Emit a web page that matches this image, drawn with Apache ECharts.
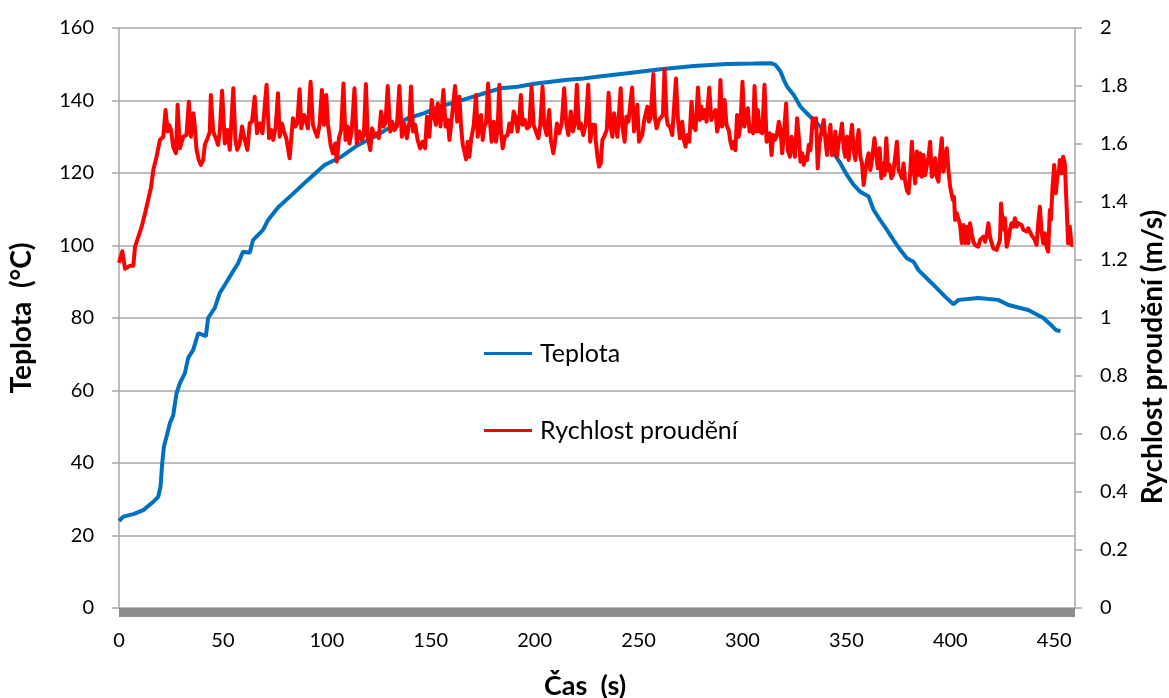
<!DOCTYPE html>
<html>
<head>
<meta charset="utf-8">
<script src="https://cdn.jsdelivr.net/npm/echarts@6/dist/echarts.min.js"></script>
<style>
  html, body { margin: 0; padding: 0; background: #fff; }
  #chart { width: 1169px; height: 698px; }
</style>
</head>
<body>
<div id="chart"></div>
<script>
// Teplota (°C) – time stamps [s] and values
const tempTime = [0, 2.1, 6.9, 11.7, 16.5, 18.9, 20.0, 20.8, 21.6, 22.9, 24.5, 26.1, 27.7, 29.3, 31.7, 33.3, 35.7, 38.1, 41.8, 42.9, 46.1, 48.5, 50.9, 53.3, 57.3, 59.7, 62.9, 64.5, 69.3, 71.7, 76.5, 83, 90.9, 98.9, 107, 114.9, 123, 131, 139, 147, 154.2, 159.8, 167.8, 175.8, 183.8, 191.8, 199.8, 207.8, 215.8, 223.8, 231, 244.6, 260.6, 276.6, 292.6, 305.5, 313.5, 315.9, 318.3, 319.9, 321.5, 324.7, 327.9, 331.1, 334.3, 337.5, 340.7, 343.9, 347.1, 350.3, 353.5, 356.7, 360.7, 363.1, 366.3, 369.5, 372.7, 375.9, 379.1, 382.3, 384.7, 391.1, 397.5, 401.5, 404, 413.5, 423, 428, 437.5, 444.8, 448.6, 451, 453];
const tempValues = [24, 25.2, 25.9, 27.0, 29.3, 30.7, 33.5, 40, 44.5, 47.3, 51, 53.2, 59.3, 62, 64.8, 69, 71.2, 75.8, 75, 80, 82.8, 86.9, 89.1, 91.4, 95.1, 98.3, 98, 101.5, 104.3, 107, 110.5, 113.9, 118.1, 122.2, 124.5, 127.7, 130, 132.8, 135.1, 136.5, 138.3, 139.2, 140.6, 142, 143.4, 143.8, 144.6, 145.2, 145.7, 146.1, 146.6, 147.5, 148.6, 149.5, 150.1, 150.2, 150.3, 149.8, 148, 145.7, 143.8, 141.5, 138.3, 136.4, 134.6, 132.8, 130, 125.4, 122.7, 119.4, 116.7, 114.8, 113.5, 109.8, 107, 104.3, 101.5, 98.8, 96.5, 95.5, 93.2, 89.6, 85.9, 83.8, 85, 85.5, 85, 83.6, 82.2, 80, 78, 76.6, 76.4];

// Rychlost proudění (m/s) – time stamps [s] and values
const speedTime = [
  0, 1.6, 2.9, 5.3, 6.9, 7.7, 9.3, 10.9, 12.5, 14.1, 15.4, 16.5, 18.1, 19.7, 21.3, 22.4, 23.4, 24.2, 25.0, 26.1, 27.4, 28.2, 29.3, 30.9, 32.5, 33.6, 34.6, 35.8, 36.5, 37.3, 38.4, 39.4, 40.5, 41.3, 42.6, 43.7, 44.2, 45.3, 46.9, 47.7, 48.5, 49.6, 50.9, 52.2, 53.3, 55.0, 56.0, 56.9, 58.1, 59.2, 60.5, 61.8, 62.9, 64.0, 65.3, 66.4, 67.7, 69.0, 71.0, 72.2, 73.3, 74.2, 75.4, 76.5,
  77.3, 78.4, 79.4, 80.5, 81.3, 82.1, 82.9, 83.7, 84.8, 85.8, 86.9, 87.7, 89.0, 90.1, 90.9, 92.2, 93.3, 94.4, 95.4, 96.5, 97.6, 98.6, 99.7, 100.5, 101.8, 102.9, 104.0, 104.8, 105.8, 106.9, 108.0, 109.0, 110.1, 110.9, 112.0, 113.3, 114.4, 115.7, 116.8, 117.8, 118.8, 119.7, 120.9, 121.8, 122.9, 124.1, 125.0, 126.1, 127.3, 128.2, 129.3, 130.5, 131.4, 132.5, 133.7, 134.9, 136.1, 137.3, 138.5, 139.7, 140.5, 141.5, 142.5, 143.7, 144.9, 146.1, 147.3, 148.2, 149.3, 150.5, 151.4, 152.5, 153.4,
  154.7, 155.3, 156.1, 157.1, 158.2, 159.0, 159.8, 160.6, 161.7, 162.7, 163.8, 164.6, 165.4, 166.2, 167.0, 167.8, 168.6, 169.4, 170.7, 171.8, 172.6, 173.4, 174.2, 175.0, 175.8, 176.6, 177.6, 178.5, 179.3, 180.3, 181.4, 182.2, 183.0, 183.8, 184.6, 185.7, 187.0, 187.8, 188.9, 189.9, 191.0, 191.8, 192.6, 193.4, 194.2, 195.3, 196.3, 197.4, 198.5, 199.5, 200.6, 201.8, 202.7, 203.8, 204.6, 205.8, 207.0, 207.8, 209.0, 209.8, 210.7, 211.8, 213.0, 214.2, 215.2, 216.2, 217.4, 218.4, 219.4, 220.3, 221.3, 222.2, 223.4, 224.6, 225.8, 226.7, 227.9, 229.0,
  229.4, 230.2, 231.0, 231.8, 232.6, 233.4, 234.7, 235.6, 236.6, 237.4, 238.2, 239.0, 239.8, 240.6, 241.4, 242.2, 243.3, 244.1, 245.1, 245.9, 246.9, 247.8, 248.6, 249.4, 250.2, 251.0, 251.8, 252.6, 253.4, 254.2, 255.0, 255.8, 257.1, 257.9, 258.7, 259.8, 260.6, 261.7, 262.5, 263.5, 264.1, 265.1, 266.2, 267.0, 268.0, 268.9, 269.9, 271.0, 271.8, 272.6, 273.4, 274.4, 275.5, 276.3, 277.4, 278.6, 279.4, 280.2, 281.0, 281.9, 282.7, 284.0, 285.0, 285.9, 287.0, 287.8, 288.6, 289.4, 290.2, 291.4, 292.3, 293.4, 294.2, 295.0, 295.8, 296.6, 297.4, 298.2, 299.0, 300.0, 300.9, 301.8, 302.6, 303.4, 304.2, 305.1, 305.8, 306.8,
  307.4, 308.4, 309.5, 310.6, 311.6, 312.2, 313.2, 314.0, 314.8, 315.6, 316.4, 317.5, 318.3, 319.1, 319.9, 321.0, 321.8, 322.8, 323.6, 324.4, 325.2, 326.3, 327.1, 327.9, 328.7, 329.5, 330.3, 331.1, 331.9, 332.7, 333.8, 334.6, 335.4, 336.2, 337.0, 338.0, 339.1, 339.9, 340.7, 341.5, 342.3, 343.1, 343.9, 344.7, 345.5, 346.3, 347.1, 347.9, 348.7, 349.5, 350.3, 351.1, 351.9, 352.7, 353.5, 354.3, 355.1, 355.9, 356.7, 357.5, 358.3, 359.1, 359.9, 360.7, 361.5, 362.3, 363.5, 364.3, 365.1, 366.0, 366.8, 367.6, 368.4, 369.2, 370.0, 370.8, 371.6, 372.4, 373.2, 374.3, 375.1, 375.9, 376.7, 377.5, 378.3, 379.1, 379.9, 380.7, 381.5, 382.3,
  383.1, 383.9, 384.7, 385.5, 386.3, 387.1, 387.9, 388.7, 389.5, 390.3, 391.1, 391.9, 392.7, 393.5, 394.3, 395.1, 395.9, 396.7, 397.5, 398.3, 399.1, 399.9, 400.7, 401.2, 401.8, 402.3, 403.1, 403.9, 404.7, 405.5, 406.3, 407.1, 407.9, 408.7, 409.5, 410.3, 411.1, 411.9, 412.7, 413.5, 414.3, 415.1, 415.9, 416.7, 417.5, 418.3, 419.1, 419.9, 420.7, 421.5, 422.3, 423.1, 423.9, 424.4, 425.2, 425.8, 426.3, 427.1, 427.9, 428.7, 429.5, 430.3, 431.1, 431.9, 432.7, 433.5, 434.3, 435.1, 435.9, 436.7, 437.5, 438.3, 439.1, 439.9, 440.7, 441.5, 442.3, 443.1, 443.9, 444.7, 445.5, 446.3, 447.1, 447.9, 448.4, 449.2, 450.0, 450.8, 451.5, 452.3, 452.7, 453.5, 454.3, 455.1, 455.9, 456.7, 457.5, 458.3, 459.1
];
const speedValues = [
  1.19, 1.23, 1.17, 1.18, 1.18, 1.245, 1.28, 1.315, 1.36, 1.41, 1.45, 1.51, 1.557, 1.614, 1.625, 1.717, 1.643, 1.665, 1.648, 1.59, 1.568, 1.735, 1.585, 1.625, 1.631, 1.746, 1.625, 1.706, 1.66, 1.58, 1.545, 1.528, 1.545, 1.597, 1.62, 1.643, 1.769, 1.643, 1.614, 1.597, 1.643, 1.784, 1.602, 1.648, 1.58, 1.792, 1.614, 1.58, 1.602, 1.66, 1.614, 1.58, 1.671, 1.677, 1.763, 1.637, 1.671, 1.637, 1.804, 1.62, 1.648, 1.614, 1.66, 1.775,
  1.625, 1.671, 1.643, 1.62, 1.625, 1.551, 1.556, 1.689, 1.66, 1.671, 1.789, 1.654, 1.70, 1.677, 1.654, 1.815, 1.666, 1.643, 1.625, 1.666, 1.786, 1.666, 1.769, 1.671, 1.597, 1.568, 1.602, 1.539, 1.62, 1.648, 1.809, 1.614, 1.66, 1.602, 1.648, 1.792, 1.602, 1.643, 1.614, 1.631, 1.807, 1.625, 1.579, 1.654, 1.631, 1.637, 1.62, 1.712, 1.66, 1.671, 1.80, 1.643, 1.677, 1.648, 1.66, 1.80, 1.625, 1.671, 1.62, 1.671, 1.798, 1.643, 1.666, 1.614, 1.585, 1.608, 1.585, 1.694, 1.625, 1.752, 1.70, 1.666, 1.74,
  1.66, 1.666, 1.786, 1.66, 1.683, 1.614, 1.666, 1.671, 1.80, 1.677, 1.763, 1.66, 1.597, 1.574, 1.547, 1.608, 1.556, 1.614, 1.666, 1.769, 1.625, 1.666, 1.70, 1.614, 1.66, 1.671, 1.809, 1.677, 1.608, 1.677, 1.608, 1.654, 1.804, 1.643, 1.585, 1.625, 1.631, 1.671, 1.643, 1.712, 1.689, 1.643, 1.689, 1.769, 1.666, 1.683, 1.654, 1.66, 1.798, 1.666, 1.643, 1.62, 1.666, 1.798, 1.666, 1.631, 1.717, 1.614, 1.568, 1.608, 1.671, 1.637, 1.671, 1.792, 1.671, 1.631, 1.712, 1.643, 1.671, 1.804, 1.654, 1.671, 1.631, 1.671, 1.804, 1.608, 1.666, 1.666,
  1.614, 1.556, 1.522, 1.533, 1.614, 1.625, 1.648, 1.777, 1.66, 1.625, 1.706, 1.666, 1.625, 1.62, 1.792, 1.66, 1.608, 1.694, 1.677, 1.683, 1.795, 1.643, 1.677, 1.735, 1.608, 1.602, 1.631, 1.677, 1.677, 1.729, 1.677, 1.689, 1.841, 1.689, 1.654, 1.683, 1.689, 1.70, 1.858, 1.689, 1.666, 1.66, 1.631, 1.631, 1.826, 1.689, 1.62, 1.677, 1.614, 1.591, 1.631, 1.608, 1.746, 1.66, 1.648, 1.795, 1.683, 1.729, 1.689, 1.717, 1.677, 1.795, 1.683, 1.70, 1.717, 1.643, 1.666, 1.821, 1.66, 1.752, 1.666, 1.648, 1.608, 1.585, 1.608, 1.579, 1.70, 1.625, 1.666, 1.815, 1.66, 1.654, 1.723, 1.643, 1.66, 1.637, 1.80, 1.643,
  1.717, 1.643, 1.637, 1.804, 1.608, 1.602, 1.637, 1.562, 1.631, 1.614, 1.625, 1.677, 1.648, 1.568, 1.631, 1.74, 1.579, 1.556, 1.625, 1.631, 1.556, 1.689, 1.625, 1.539, 1.568, 1.528, 1.556, 1.545, 1.597, 1.579, 1.689, 1.66, 1.689, 1.516, 1.602, 1.643, 1.683, 1.614, 1.562, 1.608, 1.666, 1.562, 1.574, 1.643, 1.556, 1.608, 1.631, 1.671, 1.585, 1.556, 1.625, 1.545, 1.614, 1.666, 1.579, 1.545, 1.602, 1.648, 1.556, 1.533, 1.459, 1.505, 1.545, 1.568, 1.510, 1.545, 1.62, 1.568, 1.516, 1.585, 1.482, 1.533, 1.493, 1.62, 1.510, 1.528, 1.482, 1.493, 1.539, 1.608, 1.510, 1.499, 1.482, 1.533, 1.470, 1.441, 1.430, 1.499, 1.608, 1.516,
  1.464, 1.574, 1.493, 1.568, 1.487, 1.562, 1.493, 1.487, 1.556, 1.608, 1.487, 1.499, 1.551, 1.487, 1.470, 1.562, 1.62, 1.505, 1.545, 1.585, 1.510, 1.453, 1.447, 1.407, 1.418, 1.338, 1.361, 1.355, 1.321, 1.258, 1.321, 1.258, 1.315, 1.258, 1.327, 1.292, 1.263, 1.252, 1.246, 1.246, 1.269, 1.269, 1.281, 1.263, 1.286, 1.327, 1.281, 1.258, 1.240, 1.246, 1.235, 1.235, 1.269, 1.395, 1.327, 1.304, 1.344, 1.246, 1.269, 1.304, 1.327, 1.315, 1.344, 1.315, 1.327, 1.332, 1.321, 1.304, 1.309, 1.298, 1.309, 1.298, 1.286, 1.286, 1.269, 1.252, 1.327, 1.384, 1.298, 1.258, 1.292, 1.246, 1.229, 1.372, 1.338, 1.453, 1.528, 1.430, 1.487, 1.510, 1.545, 1.499, 1.556, 1.533, 1.395, 1.258, 1.315, 1.252, 1.252
];

const seriesNames = ['Teplota', 'Rychlost proudění'];
const axisTitles = { x: 'Čas  (s)', left: 'Teplota  (°C)', right: 'Rychlost proudění (m/s)' };

const FONT = 'Lato, "Open Sans", "DejaVu Sans", sans-serif';
const GRID_COLOR = '#a6a6a6';
const BLUE = '#0070c0';
const RED = '#ff0000';

const zip = (xs, ys) => xs.map((x, i) => [x, ys[i]]);

const chart = echarts.init(document.getElementById('chart'), null, { renderer: 'canvas' });

chart.setOption({
  animation: false,
  backgroundColor: '#ffffff',
  grid: { left: 119, right: 94, top: 28, bottom: 90, containLabel: false },
  legend: {
    orient: 'vertical',
    left: 479,
    top: 336,
    icon: 'rect',
    itemWidth: 48,
    itemHeight: 3,
    itemGap: 52,
    textStyle: { fontFamily: FONT, fontSize: 25, color: '#000', padding: [0, 0, 0, 3] },
    data: [
      { name: seriesNames[0], itemStyle: { color: BLUE } },
      { name: seriesNames[1], itemStyle: { color: RED } }
    ]
  },
  xAxis: {
    type: 'value',
    min: 0,
    max: 460,
    interval: 50,
    offset: 4,
    axisLine: { show: true, onZero: false, lineStyle: { color: '#8c8c8c', width: 9, cap: 'butt' } },
    axisTick: { show: false },
    splitLine: { show: false },
    axisLabel: {
      margin: 19,
      fontFamily: FONT,
      fontSize: 20,
      color: '#000',
      formatter: v => (v % 50 === 0 ? String(v) : '')
    }
  },
  yAxis: [
    {
      type: 'value',
      min: 0,
      max: 160,
      interval: 20,
      axisLine: { show: true, lineStyle: { color: GRID_COLOR, width: 1.5 } },
      axisTick: { show: true, length: 7, lineStyle: { color: GRID_COLOR, width: 1.5 } },
      splitLine: { show: true, lineStyle: { color: GRID_COLOR, width: 1.5 } },
      axisLabel: { margin: 25, fontFamily: FONT, fontSize: 20, color: '#000' }
    },
    {
      type: 'value',
      min: 0,
      max: 2,
      interval: 0.2,
      position: 'right',
      alignTicks: false,
      axisLine: { show: true, lineStyle: { color: GRID_COLOR, width: 1.5 } },
      axisTick: { show: true, length: 7, lineStyle: { color: GRID_COLOR, width: 1.5 } },
      splitLine: { show: false },
      axisLabel: { margin: 25, fontFamily: FONT, fontSize: 20, color: '#000' }
    }
  ],
  series: [
    {
      name: seriesNames[0],
      type: 'line',
      yAxisIndex: 0,
      showSymbol: false,
      symbol: 'none',
      z: 2,
      lineStyle: { color: BLUE, width: 4 },
      itemStyle: { color: BLUE },
      data: zip(tempTime, tempValues)
    },
    {
      name: seriesNames[1],
      type: 'line',
      yAxisIndex: 1,
      showSymbol: false,
      symbol: 'none',
      z: 3,
      lineStyle: { color: RED, width: 4, join: 'round' },
      itemStyle: { color: RED },
      data: zip(speedTime, speedValues)
    }
  ],
  graphic: [
    {
      type: 'text', x: 22, y: 318, rotation: Math.PI / 2,
      style: { text: axisTitles.left, fontFamily: FONT, fontSize: 28, fontWeight: 'bold', fill: '#000', align: 'center', verticalAlign: 'middle' }
    },
    {
      type: 'text', x: 1153, y: 357, rotation: Math.PI / 2,
      style: { text: axisTitles.right, fontFamily: FONT, fontSize: 28, fontWeight: 'bold', fill: '#000', align: 'center', verticalAlign: 'middle' }
    },
    {
      type: 'text', x: 585, y: 686,
      style: { text: axisTitles.x, fontFamily: FONT, fontSize: 27, fontWeight: 'bold', fill: '#000', align: 'center', verticalAlign: 'middle' }
    }
  ]
});
</script>
</body>
</html>
